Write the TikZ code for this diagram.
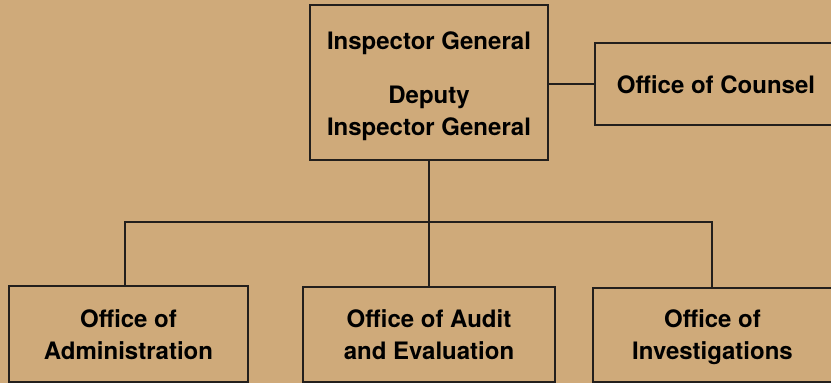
\documentclass[tikz,border=0pt]{standalone}
\usepackage{fontspec}
\setmainfont{TeX Gyre Heros}
\definecolor{bgtan}{RGB}{207,170,122}
\definecolor{linecol}{RGB}{35,31,28}
\tikzset{
  orgbox/.style={draw=linecol, line width=1.2pt, inner sep=0pt, align=center,
    font=\fontsize{24}{32}\selectfont\bfseries, text depth=0pt},
  link/.style={draw=linecol, line width=1.2pt}
}
\begin{document}
\begin{tikzpicture}[x=1pt, y=-1pt]
\useasboundingbox (0,0) rectangle (831,383);
\fill[bgtan] (0,0) rectangle (831,383);
\clip (0,0) rectangle (831,383);
\node[orgbox, minimum width=238pt, minimum height=155pt, text height=105pt] (ig) at (429,82.5)
  {Inspector General\\[22pt]Deputy\\Inspector General};
\node[orgbox, minimum width=242pt, minimum height=82pt, text height=18pt] (counsel) at (716,84)
  {Office of Counsel};
\node[orgbox, minimum width=239pt, minimum height=96pt, text height=50pt] (admin) at (128.5,334)
  {Office of\\Administration};
\node[orgbox, minimum width=252pt, minimum height=95pt, text height=49pt] (audit) at (429,334.5)
  {Office of Audit\\and Evaluation};
\node[orgbox, minimum width=239pt, minimum height=94pt, text height=48pt] (inv) at (712.5,335)
  {Office of\\Investigations};
\coordinate (jl) at (125,222);
\coordinate (jr) at (712,222);
\draw[link] (ig.south) -- (audit.north);
\draw[link] (ig.east |- counsel.west) -- (counsel.west);
\draw[link] (admin.north -| jl) -- (jl) -- (jr) -- (inv.north -| jr);
\end{tikzpicture}
\end{document}
